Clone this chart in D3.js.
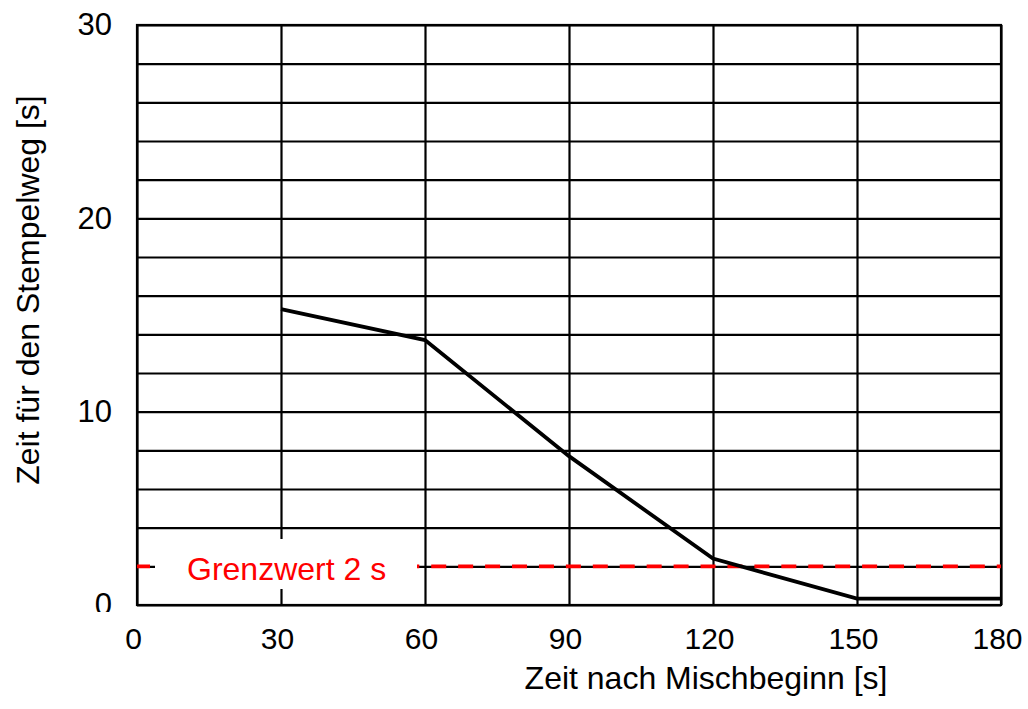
<!DOCTYPE html>
<html>
<head>
<meta charset="utf-8">
<script src="https://cdn.jsdelivr.net/npm/d3@7"></script>
<style>
  html, body { margin: 0; padding: 0; background: #fff; }
  svg { display: block; font-family: "Liberation Sans", Arial, sans-serif; }
</style>
</head>
<body>
<svg id="chart" width="1028" height="709"></svg>
<script>
// Zeit nach Mischbeginn [s] vs. Zeit für den Stempelweg [s]
const mixTimes = [30, 60, 90, 120, 150, 180];
const punchTimes = [15.3, 13.7, 7.7, 2.4, 0.33, 0.33];
const xTicks = [0, 30, 60, 90, 120, 150, 180];
const yGrid = [0, 2, 4, 6, 8, 10, 12, 14, 16, 18, 20, 22, 24, 26, 28, 30];
const yLabels = [0, 10, 20, 30];
const limitValue = 2;
const limitLabel = "Grenzwert 2 s";

const svg = d3.select("#chart");
const plotL = 137, plotR = 1001, plotT = 25, plotB = 605;
const w = plotR - plotL, h = plotB - plotT;

const x = d3.scaleLinear().domain([0, 180]).range([plotL, plotR]);
const y = d3.scaleLinear().domain([0, 30]).range([plotB, plotT]);

svg.append("rect").attr("width", 1028).attr("height", 709).attr("fill", "#fff");

// clip for the y axis group (the lowest label is cut off at its lower half)
svg.append("defs").append("clipPath").attr("id", "yclip")
  .append("rect").attr("x", -plotL).attr("y", 0).attr("width", plotL + w + 5).attr("height", 612);

// horizontal grid + y labels
const yAxis = svg.append("g")
  .attr("transform", `translate(${plotL},0)`)
  .attr("clip-path", "url(#yclip)")
  .call(d3.axisLeft(y).tickValues(yGrid).tickSize(-w).tickPadding(25)
    .tickFormat(d => yLabels.includes(d) ? d : ""));
yAxis.select(".domain").remove();
yAxis.selectAll(".tick line").attr("stroke", "#000").attr("stroke-width", 2.2);
yAxis.selectAll(".tick text")
  .attr("fill", "#000").attr("font-size", 31)
  .attr("font-family", "Liberation Sans, Arial, sans-serif");

// vertical grid + x labels
const xAxis = svg.append("g")
  .attr("transform", `translate(0,${plotB})`)
  .call(d3.axisBottom(x).tickValues(xTicks).tickSize(-h).tickPadding(23));
xAxis.select(".domain").remove();
xAxis.selectAll(".tick line").attr("stroke", "#000").attr("stroke-width", 2.2);
xAxis.selectAll(".tick text")
  .attr("fill", "#000").attr("font-size", 30).attr("dx", -4)
  .attr("font-family", "Liberation Sans, Arial, sans-serif");

// frame
svg.append("rect")
  .attr("x", plotL).attr("y", plotT).attr("width", w).attr("height", h)
  .attr("fill", "none").attr("stroke", "#000").attr("stroke-width", 2.2);

// limit line
svg.append("line")
  .attr("x1", x(0)).attr("x2", x(180))
  .attr("y1", y(limitValue)).attr("y2", y(limitValue))
  .attr("stroke", "#ff0000").attr("stroke-width", 3.6)
  .attr("stroke-dasharray", "15 11.93")
  .attr("stroke-dashoffset", 2);

// label box
svg.append("rect")
  .attr("x", 155).attr("y", 539).attr("width", 262).attr("height", 50)
  .attr("fill", "#fff");
svg.append("text")
  .attr("x", 187).attr("y", 580)
  .attr("fill", "#ff0000").attr("font-size", 32)
  .text(limitLabel);

// data line
const line = d3.line().x((d, i) => x(mixTimes[i])).y(d => y(d));
svg.append("path")
  .datum(punchTimes)
  .attr("d", line)
  .attr("fill", "none").attr("stroke", "#000")
  .attr("stroke-width", 3.8).attr("stroke-linejoin", "miter");

// axis titles
svg.append("text")
  .attr("x", 706).attr("y", 689)
  .attr("text-anchor", "middle").attr("font-size", 32).attr("fill", "#000")
  .text("Zeit nach Mischbeginn [s]");
svg.append("text")
  .attr("transform", "translate(39,290) rotate(-90)")
  .attr("text-anchor", "middle").attr("font-size", 32).attr("fill", "#000")
  .text("Zeit für den Stempelweg [s]");
</script>
</body>
</html>
